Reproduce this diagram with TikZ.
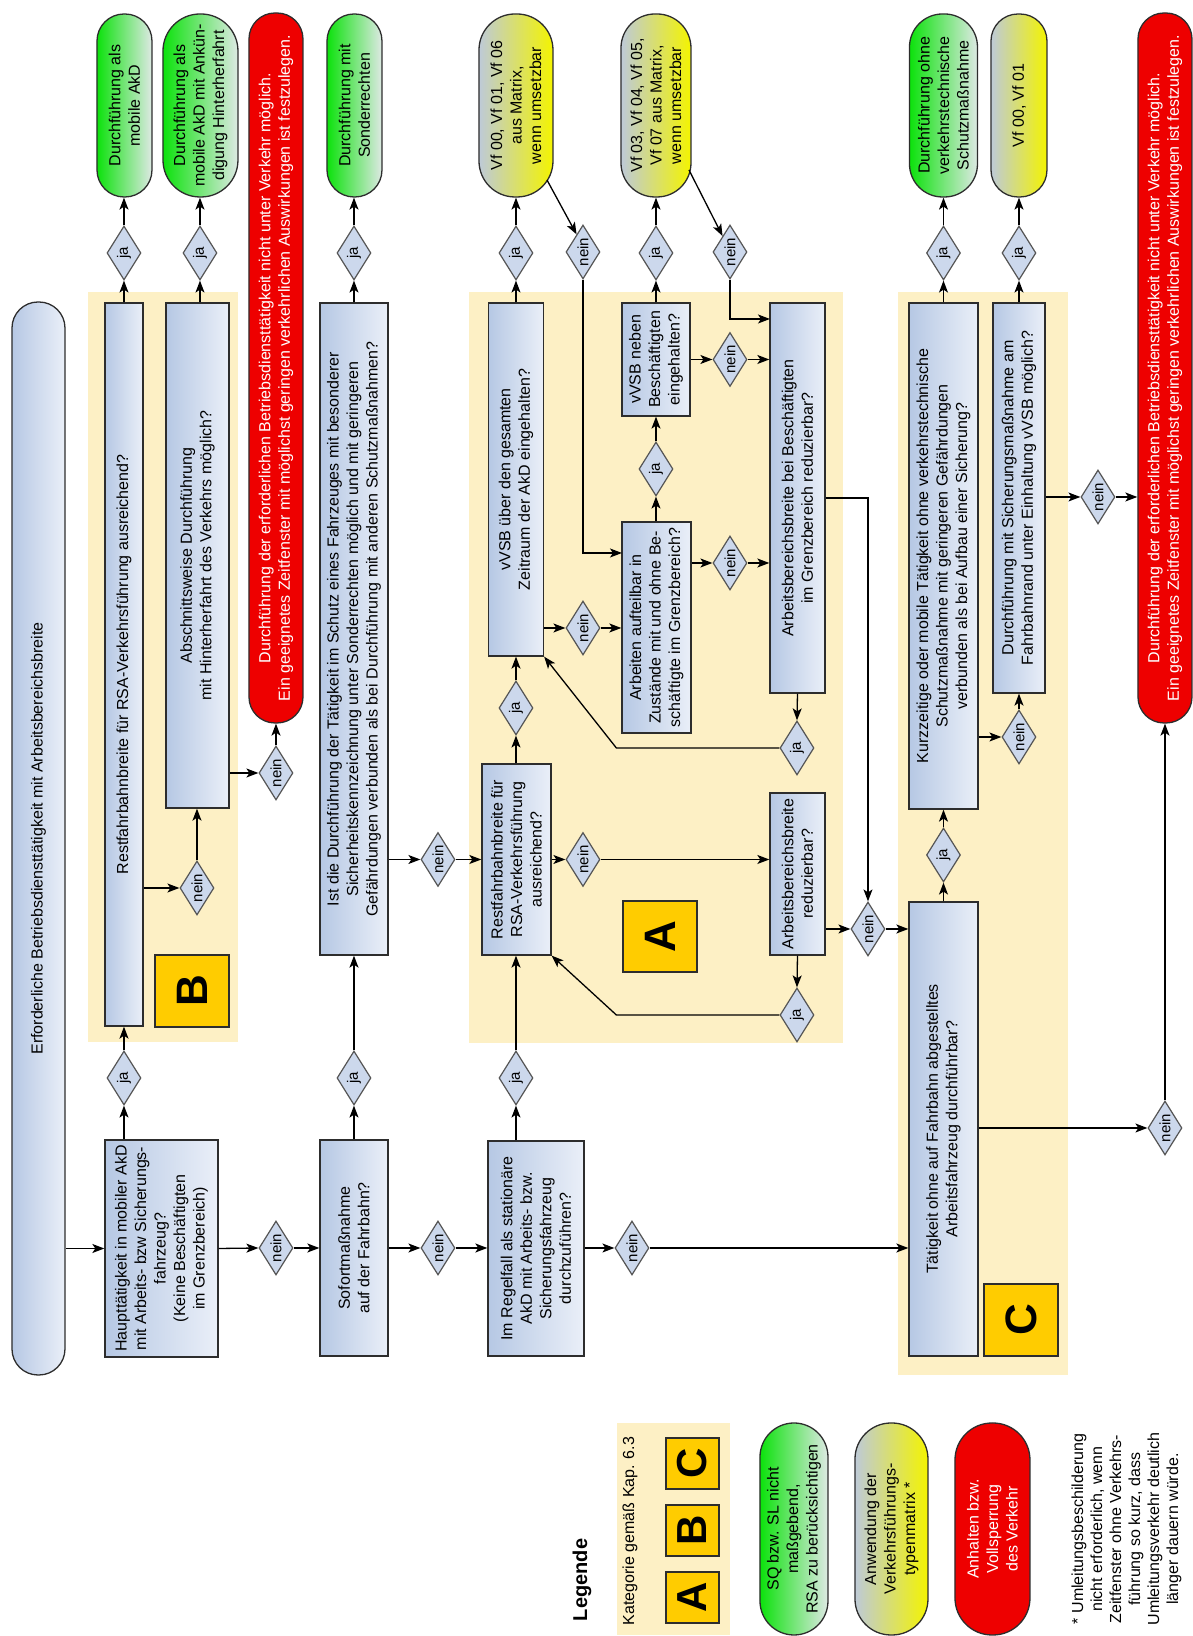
\documentclass[tikz,border=0pt]{standalone}
\usepackage{fontspec}
\setmainfont{Liberation Sans}
\usetikzlibrary{shapes.geometric,arrows.meta}

\definecolor{boxdark}{RGB}{182,200,228}
\definecolor{boxlight}{RGB}{234,239,248}
\definecolor{areafill}{RGB}{253,240,197}
\definecolor{katfill}{RGB}{255,204,0}
\definecolor{greenbright}{RGB}{12,226,12}
\definecolor{greenlight}{RGB}{222,233,228}
\definecolor{vfyellow}{RGB}{244,244,0}
\definecolor{vfgrey}{RGB}{190,202,216}
\definecolor{haltred}{RGB}{238,0,0}
\definecolor{rautefill}{RGB}{204,216,236}
\definecolor{rautegray}{RGB}{85,85,85}
\definecolor{linegray}{RGB}{45,45,45}

\begin{document}
\begin{tikzpicture}[x=1pt, y=1pt, rotate=90, transform shape,
  font=\fontsize{16}{19.5}\selectfont,
  frage/.style={rectangle, draw=linegray, line width=1.3pt, left color=boxdark, right color=boxlight, align=center, inner sep=0pt},
  ende/.style={rectangle, rounded corners=#1, draw=linegray, line width=1.3pt, align=center, inner sep=0pt},
  gut/.style={ende=#1, left color=greenbright, right color=greenlight},
  vf/.style={ende=#1, left color=vfgrey, right color=vfyellow},
  halt/.style={ende=#1, fill=haltred, text=white},
  raute/.style={diamond, aspect=1.6, draw=rautegray, line width=1.2pt, fill=rautefill, minimum width=54, minimum height=34, inner sep=0pt, font=\fontsize{15}{15}\selectfont},
  kat/.style={rectangle, draw=linegray, line width=1.3pt, fill=katfill, inner sep=0pt, font=\fontsize{44}{44}\selectfont\bfseries},
  bereich/.style={fill=areafill},
  pfeil/.style={-{Stealth[length=12pt, width=9pt, inset=3pt]}, line width=1.3pt}]

\useasboundingbox (0,0) rectangle (1636,1193);

% Bereiche der Kategorien
\fill[bereich] (594,955) rectangle (1344,1105);
\fill[bereich] (593,350) rectangle (1344,724);
\fill[bereich] (261,125) rectangle (1344,295);

\node[frage, rounded corners=26, minimum width=1073, minimum height=53] (titel) at (797.5,1154.5) {Erforderliche Betriebsdiensttätigkeit mit Arbeitsbereichsbreite};

% Kategorie B
\node[frage, minimum width=217, minimum height=113] (haupt) at (387.5,1031.5) {Haupttätigkeit in mobiler AkD\\mit Arbeits- bzw Sicherungs-\\fahrzeug?\\(Keine Beschäftigten\\im Grenzbereich)};
\node[frage, minimum width=723, minimum height=38] (brest) at (971.5,1069) {Restfahrbahnbreite für RSA-Verkehrsführung ausreichend?};
\node[frage, minimum width=505, minimum height=63] (absch) at (1080.5,995.5) {Abschnittsweise Durchführung\\mit Hinterherfahrt des Verkehrs möglich?};
\node[kat, minimum width=72, minimum height=74] (katB) at (645,1001) {B};
\node[gut=27, minimum width=183, minimum height=55] (endeA) at (1530.5,1068.5) {Durchführung als\\mobile AkD};
\node[gut=37, minimum width=183, minimum height=75] (endeB) at (1530.5,992.5) {Durchführung als\\mobile AkD mit Ankün-\\digung Hinterherfahrt};
\node[halt=26, minimum width=710, minimum height=54] (haltA) at (1268,917) {Durchführung der erforderlichen Betriebsdiensttätigkeit nicht unter Verkehr möglich.\\Ein geeignetes Zeitfenster mit möglichst geringen verkehrlichen Auswirkungen ist festzulegen.};

\node[frage, minimum width=216, minimum height=68] (sofort) at (388,839) {Sofortmaßnahme\\auf der Fahrbahn?};
\node[frage, minimum width=652, minimum height=68] (schutz) at (1007,839) {Ist die Durchführung der Tätigkeit im Schutz eines Fahrzeuges mit besonderer\\Sicherheitskennzeichnung unter Sonderrechten möglich und mit geringeren\\Gefährdungen verbunden als bei Durchführung mit anderen Schutzmaßnahmen?};
\node[gut=27, minimum width=183, minimum height=55] (endeC) at (1530.5,838.5) {Durchführung mit\\Sonderrechten};

% Kategorie A
\node[frage, minimum width=215, minimum height=96] (regel) at (387.5,657) {Im Regelfall als stationäre\\AkD mit Arbeits- bzw.\\Sicherungsfahrzeug\\durchzuführen?};
\node[frage, minimum width=191, minimum height=69] (arest) at (776.5,676.5) {Restfahrbahnbreite für\\RSA-Verkehrsführung\\ausreichend?};
\node[kat, minimum width=71, minimum height=74] (katA) at (699.5,533) {A};
\node[frage, minimum width=353, minimum height=55] (vvsbA) at (1156.5,677) {vVSB über den gesamten\\Zeitraum der AkD eingehalten?};
\node[vf=36, minimum width=183, minimum height=74] (vfA) at (1530.5,677) {Vf 00, Vf 01, Vf 06\\aus Matrix,\\wenn umsetzbar};
\node[frage, minimum width=211, minimum height=69] (aufteil) at (1008.5,536.5) {Arbeiten aufteilbar in\\Zustände mit und ohne Be-\\schäftigte im Grenzbereich?};
\node[frage, minimum width=113, minimum height=68] (vvsbB) at (1276.5,537) {vVSB neben\\Beschäftigten\\eingehalten?};
\node[vf=34, minimum width=183, minimum height=70] (vfB) at (1530.5,537) {Vf 03, Vf 04, Vf 05,\\Vf 07 aus Matrix,\\wenn umsetzbar};
\node[frage, minimum width=390, minimum height=55] (abbesch) at (1138,395.5) {Arbeitsbereichsbreite bei Beschäftigten\\im Grenzbereich reduzierbar?};
\node[frage, minimum width=162, minimum height=55] (abred) at (762,395.5) {Arbeitsbereichsbreite\\reduzierbar?};

% Kategorie C
\node[frage, minimum width=454, minimum height=69] (ohne) at (507,249.5) {Tätigkeit ohne auf Fahrbahn abgestelltes\\Arbeitsfahrzeug durchführbar?};
\node[kat, minimum width=72, minimum height=74] (katC) at (316,172) {C};
\node[frage, minimum width=506, minimum height=69] (kurz) at (1080,249.5) {Kurzzeitige oder mobile Tätigkeit ohne verkehrstechnische\\Schutzmaßnahme mit geringeren Gefährdungen\\verbunden als bei Aufbau einer Sicherung?};
\node[gut=33, minimum width=183, minimum height=68] (endeD) at (1530.5,249.5) {Durchführung ohne\\verkehrstechnische\\Schutzmaßnahme};
\node[frage, minimum width=390, minimum height=52] (sicher) at (1138,174) {Durchführung mit Sicherungsmaßnahme am\\Fahrbahnrand unter Einhaltung vVSB möglich?};
\node[vf=27, minimum width=183, minimum height=56] (vfC) at (1530.5,174) {Vf 00, Vf 01};
\node[halt=26, minimum width=710, minimum height=54] (haltB) at (1268,28) {Durchführung der erforderlichen Betriebsdiensttätigkeit nicht unter Verkehr möglich.\\Ein geeignetes Zeitfenster mit möglichst geringen verkehrlichen Auswirkungen ist festzulegen.};

% Entscheidungen
\node[raute] (haupt-ja) at (558,1069) {ja};
\node[raute] (haupt-nein) at (388,917) {nein};
\node[raute] (brest-nein) at (748,996) {nein};
\node[raute] (brest-ja) at (1383,1069) {ja};
\node[raute] (absch-ja) at (1383,993) {ja};
\node[raute] (absch-nein) at (863,917) {nein};
\node[raute] (sofort-ja) at (558,839) {ja};
\node[raute] (schutz-ja) at (1383,839) {ja};
\node[raute] (schutz-nein) at (776.5,755) {nein};
\node[raute] (sofort-nein) at (388,755) {nein};
\node[raute] (regel-ja) at (558,677) {ja};
\node[raute] (regel-nein) at (388,561) {nein};
\node[raute] (arest-ja) at (928,677) {ja};
\node[raute] (vvsbA-ja) at (1383,677) {ja};
\node[raute] (vvsbA-nein) at (1008,610) {nein};
\node[raute] (vfA-nein) at (1384,610) {nein};
\node[raute] (aufteil-ja) at (1167,537) {ja};
\node[raute] (vvsbB-ja) at (1383,537) {ja};
\node[raute] (vfB-nein) at (1384,463) {nein};
\node[raute] (vvsbB-nein) at (1276.5,463) {nein};
\node[raute] (aufteil-nein) at (1073,463) {nein};
\node[raute] (abbesch-ja) at (888,396) {ja};
\node[raute] (arest-nein) at (776.5,610) {nein};
\node[raute] (abred-ja) at (621,396) {ja};
\node[raute] (abred-nein) at (707,325) {nein};
\node[raute] (ohne-ja) at (781,249.5) {ja};
\node[raute] (kurz-ja) at (1383,249.5) {ja};
\node[raute] (kurz-nein) at (899,174) {nein};
\node[raute] (sicher-ja) at (1383,174) {ja};
\node[raute] (sicher-nein) at (1139,95) {nein};
\node[raute] (ohne-nein) at (508,28) {nein};

\coordinate (vfA-aus) at (1456,646);
\coordinate (vfB-aus) at (1466,504);
\coordinate (aufteil-ein) at (1083,571);
\coordinate (abbesch-ein) at (1317,423);

% Verbindungen
\draw[pfeil] (titel.south -| haupt) -- (haupt.north);
\draw[pfeil] (haupt.east |- haupt-ja) -- (haupt-ja.west);
\draw[pfeil] (haupt-ja.east) -- (brest.west);
\draw[pfeil] (haupt.south) -- (haupt-nein.north);
\draw[pfeil] (haupt-nein.south) -- (sofort.north);
\draw[pfeil] (brest.south -| brest-nein) -- (brest-nein.north);
\draw[pfeil] (brest-nein.east) -- (absch.west |- brest-nein);
\draw[pfeil] (brest.east) -- (brest-ja.west);
\draw[pfeil] (brest-ja.east) -- (endeA.west |- brest-ja);
\draw[pfeil] (absch.east |- absch-ja) -- (absch-ja.west);
\draw[pfeil] (absch-ja.east) -- (endeB.west |- absch-ja);
\draw[pfeil] (absch.south -| absch-nein) -- (absch-nein.north);
\draw[pfeil] (absch-nein.east) -- (haltA.west);
\draw[pfeil] (sofort.east) -- (sofort-ja.west);
\draw[pfeil] (sofort-ja.east) -- (schutz.west);
\draw[pfeil] (schutz.east) -- (schutz-ja.west);
\draw[pfeil] (schutz-ja.east) -- (endeC.west |- schutz-ja);
\draw[pfeil] (schutz.south -| schutz-nein) -- (schutz-nein.north);
\draw[pfeil] (schutz-nein.south) -- (arest.north);
\draw[pfeil] (sofort.south) -- (sofort-nein.north);
\draw[pfeil] (sofort-nein.south) -- (regel.north -| sofort-nein);
\draw[pfeil] (regel.east |- regel-ja) -- (regel-ja.west);
\draw[pfeil] (regel-ja.east) -- (arest.west |- regel-ja);
\draw[pfeil] (regel.south -| regel-nein) -- (regel-nein.north);
\draw[pfeil] (regel-nein.south) -- (ohne.north -| regel-nein);
\draw[pfeil] (arest.east |- arest-ja) -- (arest-ja.west);
\draw[pfeil] (arest-ja.east) -- (vvsbA.west |- arest-ja);
\draw[pfeil] (vvsbA.east) -- (vvsbA-ja.west);
\draw[pfeil] (vvsbA-ja.east) -- (vfA.west);
\draw[pfeil] (vvsbA.south -| vvsbA-nein) -- (vvsbA-nein.north);
\draw[pfeil] (vvsbA-nein.south) -- (aufteil.north -| vvsbA-nein);
\draw[pfeil] (vfA-aus) -- (vfA-nein.20);
\draw[pfeil] (vfA-nein.west) -| (aufteil-ein);
\draw[pfeil] (aufteil.east |- aufteil-ja) -- (aufteil-ja.west);
\draw[pfeil] (aufteil-ja.east) -- (vvsbB.west |- aufteil-ja);
\draw[pfeil] (vvsbB.east) -- (vvsbB-ja.west);
\draw[pfeil] (vvsbB-ja.east) -- (vfB.west);
\draw[pfeil] (vfB-aus) -- (vfB-nein.25);
\draw[pfeil] (vfB-nein.west) -| (abbesch-ein);
\draw[pfeil] (vvsbB.south -| vvsbB-nein) -- (vvsbB-nein.north);
\draw[pfeil] (vvsbB-nein.south) -- (abbesch.north -| vvsbB-nein);
\draw[pfeil] (aufteil.south -| aufteil-nein) -- (aufteil-nein.north);
\draw[pfeil] (aufteil-nein.south) -- (abbesch.north -| aufteil-nein);
\draw[pfeil] (abbesch.west) -- (abbesch-ja.east);
\draw[pfeil] (abbesch-ja.north) -- ++(0,163) -- (vvsbA.south west);
\draw[pfeil] (arest.south) -- (arest-nein.north);
\draw[pfeil] (arest-nein.south) -- (abred.north -| arest-nein);
\draw[pfeil] (abred.west) -- (abred-ja.east);
\draw[pfeil] (abred-ja.north) -- ++(0,163) -- (arest.south west);
\draw[pfeil] (abred.south -| abred-nein) -- (abred-nein.north);
\draw[pfeil] (abbesch.south) |- (abred-nein.east);
\draw[pfeil] (abred-nein.south) -- (ohne.north -| abred-nein);
\draw[pfeil] (ohne.east) -- (ohne-ja.west);
\draw[pfeil] (ohne-ja.east) -- (kurz.west);
\draw[pfeil] (kurz.east) -- (kurz-ja.west);
\draw[pfeil] (kurz-ja.east) -- (endeD.west);
\draw[pfeil] (kurz.south -| kurz-nein) -- (kurz-nein.north);
\draw[pfeil] (kurz-nein.east) -- (sicher.west);
\draw[pfeil] (sicher.east) -- (sicher-ja.west);
\draw[pfeil] (sicher-ja.east) -- (vfC.west);
\draw[pfeil] (sicher.south -| sicher-nein) -- (sicher-nein.north);
\draw[pfeil] (sicher-nein.south) -- (haltB.north -| sicher-nein);
\draw[pfeil] (ohne.south -| ohne-nein) -- (ohne-nein.north);
\draw[pfeil] (ohne-nein.east) -- (haltB.west);

% Legende
\node[font=\fontsize{20}{20}\selectfont\bfseries] (legende) at (56,611) {Legende};
\fill[bereich] (1,463) rectangle (213,576);
\node (kap) at (105,563) {Kategorie gemäß Kap. 6.3};
\node[kat, minimum width=51, minimum height=53, font=\fontsize{42}{42}\selectfont\bfseries] (legA) at (38.5,500.5) {A};
\node[kat, minimum width=51, minimum height=53, font=\fontsize{42}{42}\selectfont\bfseries] (legB) at (105.5,500.5) {B};
\node[kat, minimum width=51, minimum height=53, font=\fontsize{42}{42}\selectfont\bfseries] (legC) at (172.5,500.5) {C};
\node[gut=34, minimum width=212, minimum height=68] (leggut) at (107,399) {SQ bzw. SL nicht\\maßgebend,\\RSA zu berücksichtigen};
\node[vf=36, minimum width=212, minimum height=73] (legvf) at (107,301.5) {Anwendung der\\Verkehrsführungs-\\typenmatrix *};
\node[halt=37, minimum width=212, minimum height=75] (leghalt) at (107,200.5) {Anhalten bzw.\\Vollsperrung\\des Verkehr};
\node[align=center, font=\fontsize{16}{19}\selectfont] (fussnote) at (107,66.5) {* Umleitungsbeschilderung\\nicht erforderlich, wenn\\Zeitfenster ohne Verkehrs-\\führung so kurz, dass\\Umleitungsverkehr deutlich\\länger dauern würde.};

\end{tikzpicture}
\end{document}
